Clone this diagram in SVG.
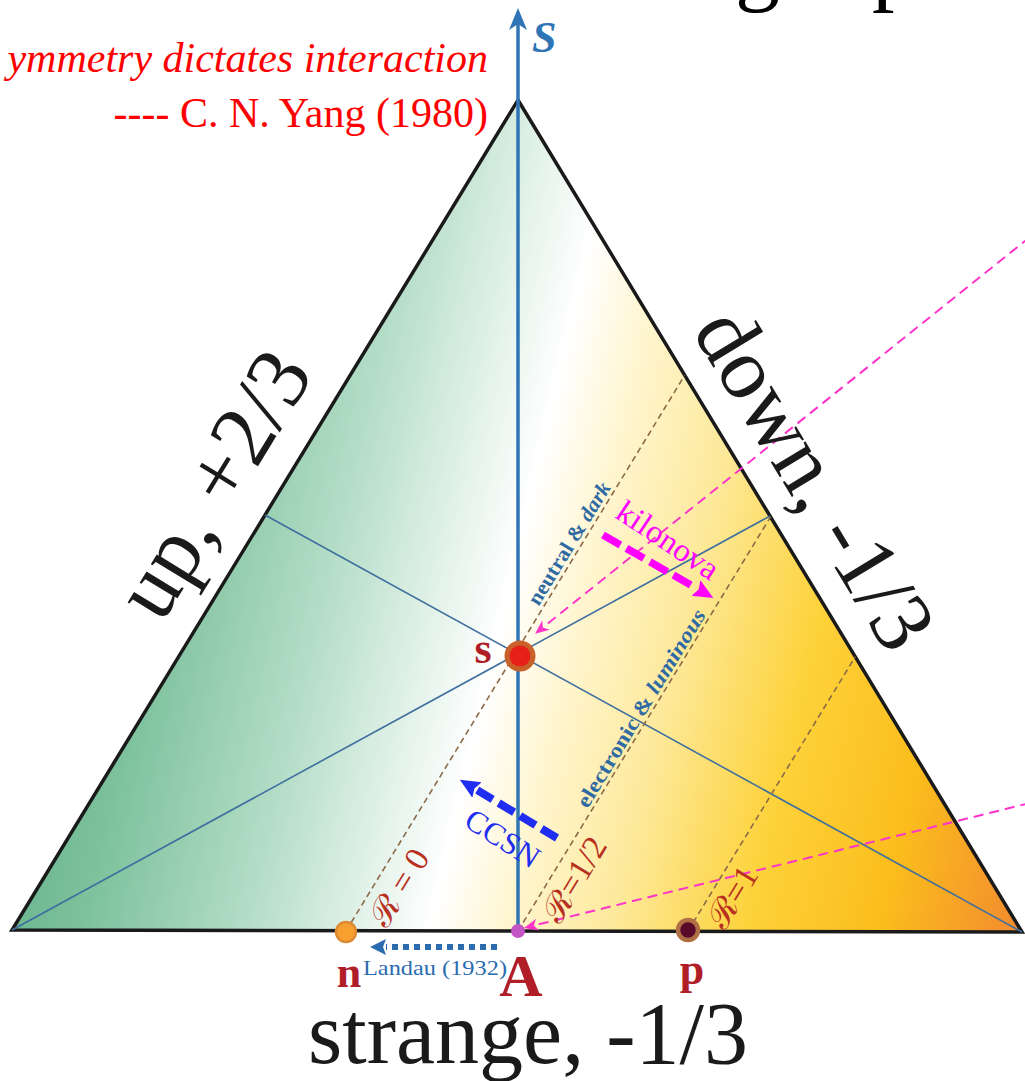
<svg xmlns="http://www.w3.org/2000/svg" width="1025" height="1081" viewBox="0 0 1025 1081">
<style>
.serif{font-family:"Liberation Serif","Times New Roman",serif}
.side{font-family:"Liberation Serif","Times New Roman",serif;font-size:88px;fill:#1a1a1a}
.rlab{font-family:"Liberation Serif","DejaVu Serif",serif;font-size:34px;fill:#b8301f}
.blue{font-family:"Liberation Serif","DejaVu Serif",serif;font-size:21px;font-weight:bold;fill:#2f6aa3}
.pt{font-family:"Liberation Serif","Times New Roman",serif;font-weight:bold;fill:#b01e28;text-anchor:middle}
.median{stroke:#3f6f9e;stroke-width:1.6;fill:none}
.rline{stroke:#8c6a48;stroke-width:1.6;stroke-dasharray:6 4;fill:none}
.magthin{stroke:#ff33cc;stroke-width:2;stroke-dasharray:10 6;fill:none}
</style>
<defs>
<linearGradient id="fillGrad" gradientUnits="userSpaceOnUse" x1="0" y1="560" x2="1052" y2="805">
<stop offset="0" stop-color="#58ab84"/>
<stop offset="0.15" stop-color="#7cc19c"/>
<stop offset="0.3" stop-color="#b4ddc7"/>
<stop offset="0.39" stop-color="#def0e6"/>
<stop offset="0.465" stop-color="#ffffff"/>
<stop offset="0.53" stop-color="#fff6d2"/>
<stop offset="0.63" stop-color="#fde99a"/>
<stop offset="0.75" stop-color="#fdd23a"/>
<stop offset="0.87" stop-color="#fbbd1c"/>
<stop offset="1" stop-color="#f28a30"/>
</linearGradient>
<marker id="headMagThin" viewBox="0 -7 16 14" markerWidth="16" markerHeight="14" refX="0" refY="0" orient="auto" markerUnits="userSpaceOnUse">
<path d="M0,-6 L14,0 L0,6 L4,0 Z" fill="#ff33cc"/>
</marker>
<marker id="headMag" viewBox="0 -10 22 20" markerWidth="22" markerHeight="20" refX="0" refY="0" orient="auto" markerUnits="userSpaceOnUse">
<path d="M0,-9 L20,0 L0,9 L3,0 Z" fill="#ff00ff"/>
</marker>
<marker id="headBlue" viewBox="0 -10 22 20" markerWidth="22" markerHeight="20" refX="0" refY="0" orient="auto" markerUnits="userSpaceOnUse">
<path d="M0,-9 L20,0 L0,9 L3,0 Z" fill="#1f2ef0"/>
</marker>
<marker id="headLandau" viewBox="0 -9 18 18" markerWidth="18" markerHeight="18" refX="0" refY="0" orient="auto" markerUnits="userSpaceOnUse">
<path d="M0,-8 L16,0 L0,8 L3,0 Z" fill="#2b6cb0"/>
</marker>
</defs>

<rect x="0" y="0" width="1025" height="1081" fill="#ffffff"/>

<!-- title fragments cut off at top -->
<text class="serif" x="735" y="-6" font-size="90" fill="#000">g</text>
<text class="serif" x="872" y="-6" font-size="90" fill="#000">p</text>

<!-- quote -->
<text class="serif" x="488" y="72" font-size="42" font-style="italic" fill="#ff0000" text-anchor="end">ymmetry dictates interaction</text>
<text class="serif" x="488" y="127" font-size="42" fill="#ff0000" text-anchor="end">---- C. N. Yang (1980)</text>

<!-- triangle -->
<g id="triangle">
<polygon points="518,100 1022,932 12,930" fill="url(#fillGrad)" stroke="#1a1a1a" stroke-width="3.5" stroke-linejoin="miter"/>
</g>

<g id="connectors">
<line class="median" x1="12" y1="930" x2="770" y2="516"/>
<line class="median" x1="1022" y1="932" x2="265" y2="515"/>
<line class="rline" x1="346" y1="931" x2="684.7" y2="375.3"/>
<line class="rline" x1="518" y1="931" x2="770.6" y2="516.8"/>
<line class="rline" x1="688" y1="931" x2="855.3" y2="656.7"/>
<line x1="518" y1="931" x2="518" y2="22" stroke="#2f74b5" stroke-width="3.5"/>
<path d="M518,8 L509,30 L518,24 L527,30 Z" fill="#2f74b5"/>
<line class="magthin" x1="1030" y1="237" x2="546" y2="625" marker-end="url(#headMagThin)"/>
<line class="magthin" x1="1030" y1="803" x2="537.6" y2="924.6" marker-end="url(#headMagThin)"/>
<line x1="603" y1="535" x2="696" y2="588" stroke="#ff00ff" stroke-width="7.5" stroke-dasharray="20 7" marker-end="url(#headMag)"/>
<line x1="557" y1="838" x2="477" y2="790" stroke="#1f2ef0" stroke-width="8" stroke-dasharray="18 7" marker-end="url(#headBlue)"/>
<line x1="497" y1="947" x2="386" y2="947" stroke="#2b6cb0" stroke-width="6" stroke-dasharray="6 5" marker-end="url(#headLandau)"/>
</g>

<!-- axis label -->
<text class="serif" x="532" y="52" font-size="44" font-style="italic" font-weight="bold" fill="#2f74b5">S</text>

<!-- side labels -->
<text class="side" text-anchor="middle" transform="translate(238,499) rotate(-58.6)">up, +2/3</text>
<text class="side" text-anchor="middle" transform="translate(790,494) rotate(58.8)">down, -1/3</text>
<text class="side" x="528" y="1063" text-anchor="middle" font-size="84">strange, -1/3</text>

<!-- R labels -->
<text class="rlab" text-anchor="middle" transform="translate(409,893) rotate(-58.6)">ℛ = 0</text>
<text class="rlab" text-anchor="middle" transform="translate(584,885) rotate(-58.6)">ℛ=1/2</text>
<text class="rlab" text-anchor="middle" transform="translate(742,903) rotate(-58.6)">ℛ=1</text>

<text class="blue" text-anchor="middle" transform="translate(575,547) rotate(-58.6)" textLength="140" lengthAdjust="spacingAndGlyphs">neutral &amp; <tspan font-style="italic">dark</tspan></text>
<text class="blue" text-anchor="middle" transform="translate(647,712) rotate(-58.6)" textLength="228" lengthAdjust="spacingAndGlyphs">electronic &amp; <tspan font-style="italic">luminous</tspan></text>

<text class="serif" font-size="32" fill="#ff00ff" text-anchor="middle" transform="translate(662,549) rotate(33.8)" textLength="116" lengthAdjust="spacingAndGlyphs">kilonova</text>
<text class="serif" font-size="31" fill="#1f2ef0" text-anchor="middle" transform="translate(497,847) rotate(32.6)" textLength="82" lengthAdjust="spacingAndGlyphs">CCSN</text>
<text class="serif" x="435" y="975" font-size="21" fill="#2b6cb0" text-anchor="middle" textLength="144" lengthAdjust="spacingAndGlyphs">Landau (1932)</text>

<!-- nodes -->
<g id="node-s">
<circle cx="520" cy="656" r="13" fill="#e8201a" stroke="#c8602a" stroke-width="5"/>
<text class="pt" x="483" y="663" font-size="44">s</text>
</g>
<g id="node-n">
<circle cx="346" cy="932" r="10" fill="#f7a030" stroke="#dc8a34" stroke-width="2.5"/>
<text class="pt" x="349" y="987" font-size="44">n</text>
</g>
<g id="node-A">
<circle cx="518" cy="931" r="7" fill="#c455c4"/>
<text class="pt" x="521" y="996" font-size="60">A</text>
</g>
<g id="node-p">
<circle cx="688" cy="930" r="10" fill="#5a0a2a" stroke="#b07045" stroke-width="4.5"/>
<text class="pt" x="692" y="984" font-size="44">p</text>
</g>
</svg>
